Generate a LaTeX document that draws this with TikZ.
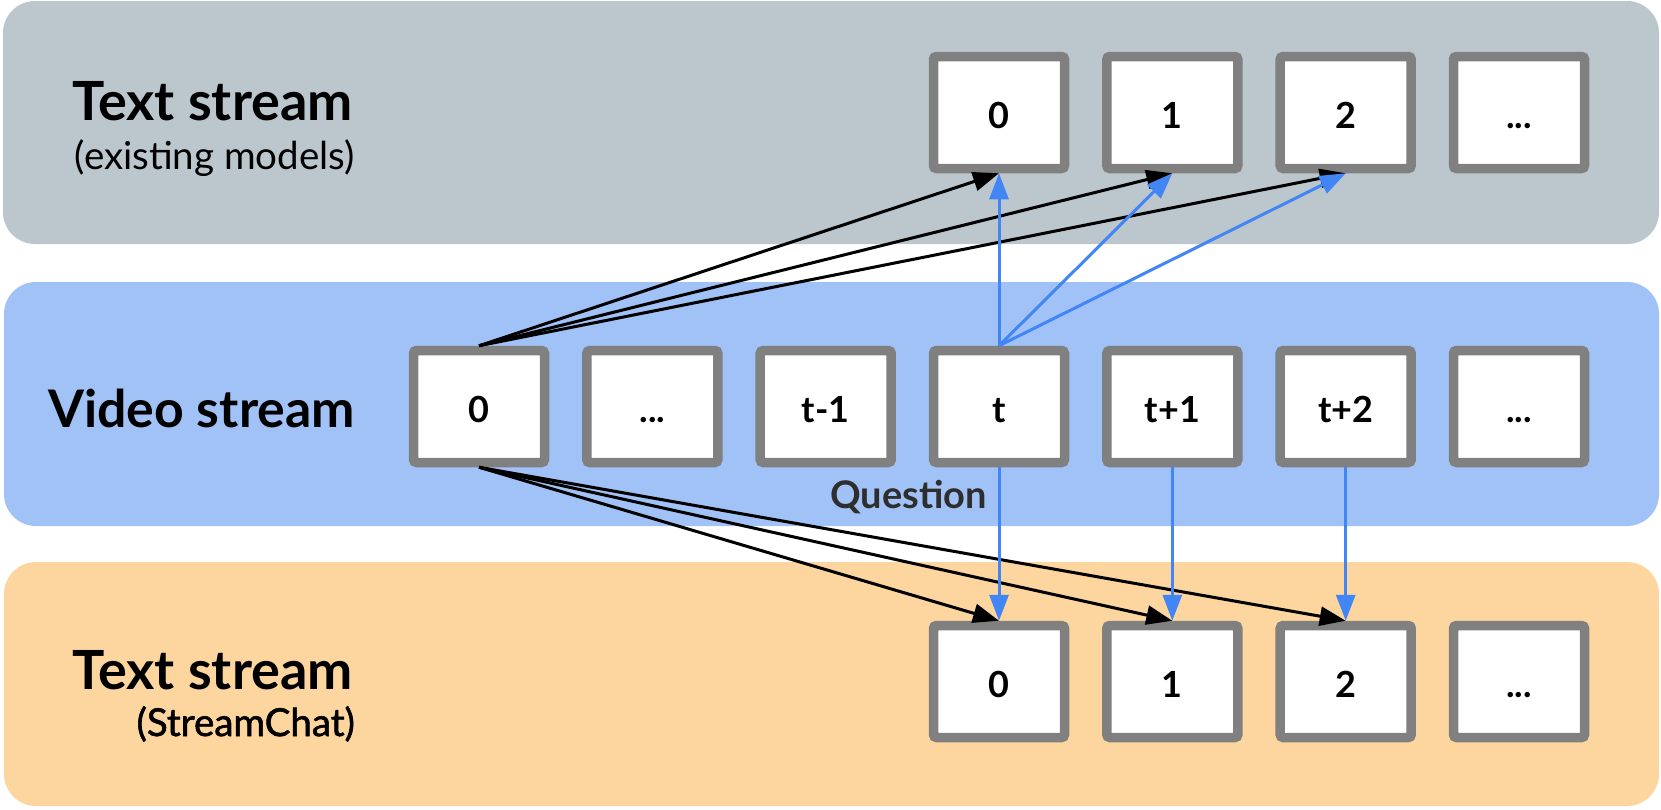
\documentclass[tikz,border=0pt]{standalone}
\usepackage{fontspec}
\setmainfont{Lato}
\usetikzlibrary{arrows.meta}
\definecolor{bandgray}{HTML}{BBC6CD}
\definecolor{bandblue}{HTML}{A1C2F6}
\definecolor{bandorange}{HTML}{FDD59F}
\definecolor{boxline}{HTML}{808080}
\definecolor{arrowblue}{HTML}{4285F4}
\definecolor{qgray}{HTML}{2E2E2E}
\tikzset{
  band/.style={rounded corners=32pt, draw=none},
  tok/.style={draw=boxline, fill=white, line width=9.5pt, rounded corners=3pt,
    minimum width=131pt, minimum height=112pt, inner sep=0pt,
    font=\fontsize{36pt}{40pt}\selectfont\bfseries, text height=31pt, text depth=0pt},
  title/.style={font=\fontsize{54pt}{60pt}\selectfont\bfseries, inner sep=0pt, anchor=base east},
  subtitle/.style={font=\fontsize{38.5pt}{44pt}\selectfont, inner sep=0pt, anchor=base east},
  blk/.style={draw=black, line width=3pt, -{Triangle[length=26pt,width=19pt]}},
  blu/.style={draw=arrowblue, line width=3pt, -{Triangle[length=26pt,width=19pt]}},
}
\begin{document}
\begin{tikzpicture}[x=1pt,y=-1pt]
\useasboundingbox (0,0) rectangle (1661,809);
% bands
\fill[band, bandgray] (3,1) rectangle (1659,244);
\fill[band, bandblue] (4,282) rectangle (1659,526);
\fill[band, bandorange] (4,562) rectangle (1659,806);
% labels
\node[title] (lt) at (353,120) {Text stream};
\node[subtitle] (ltsub) at (355,169) {(existing models)};
\node[title, font=\fontsize{51.8pt}{58pt}\selectfont\bfseries] (lv) at (355,427) {Video stream};
\node[title] (lb) at (353,689.5) {Text stream};
\node[subtitle, font=\fontsize{38.5pt}{44pt}\selectfont\addfontfeatures{FakeBold=1.5}] (lbsub) at (355,736) {(StreamChat)};
% top row
\node[tok] (t0) at (999,112.5) {0};
\node[tok] (t1) at (1172.3,112.5) {1};
\node[tok] (t2) at (1345.7,112.5) {2};
\node[tok] (t3) at (1519,112.5) {...};
% video row
\node[tok] (v0) at (479,406.5) {0};
\node[tok] (v1) at (652.3,406.5) {...};
\node[tok] (v2) at (825.7,406.5) {t-1};
\node[tok] (vt) at (999,406.5) {t};
\node[tok] (vt1) at (1172.3,406.5) {t+1};
\node[tok] (vt2) at (1345.7,406.5) {t+2};
\node[tok] (v6) at (1519,406.5) {...};
% bottom row
\node[tok] (b0) at (999,681.5) {0};
\node[tok] (b1) at (1172.3,681.5) {1};
\node[tok] (b2) at (1345.7,681.5) {2};
\node[tok] (b3) at (1519,681.5) {...};
% question label
\node[font=\fontsize{38pt}{44pt}\selectfont\bfseries, text=qgray, inner sep=0pt, anchor=base east] (q) at (987,508) {Question};
% black arrows
\draw[blk] (v0.north) -- (t0.south);
\draw[blk] (v0.north) -- (t1.south);
\draw[blk] (v0.north) -- (t2.south);
\draw[blk] (v0.south) -- (b0.north);
\draw[blk] (v0.south) -- (b1.north);
\draw[blk] (v0.south) -- (b2.north);
% blue arrows
\draw[blu] (vt.north) -- (t0.south);
\draw[blu] (vt.north) -- (t1.south);
\draw[blu] (vt.north) -- (t2.south);
\draw[blu] (vt.south) -- (b0.north);
\draw[blu] (vt1.south) -- (b1.north);
\draw[blu] (vt2.south) -- (b2.north);
\end{tikzpicture}
\end{document}
